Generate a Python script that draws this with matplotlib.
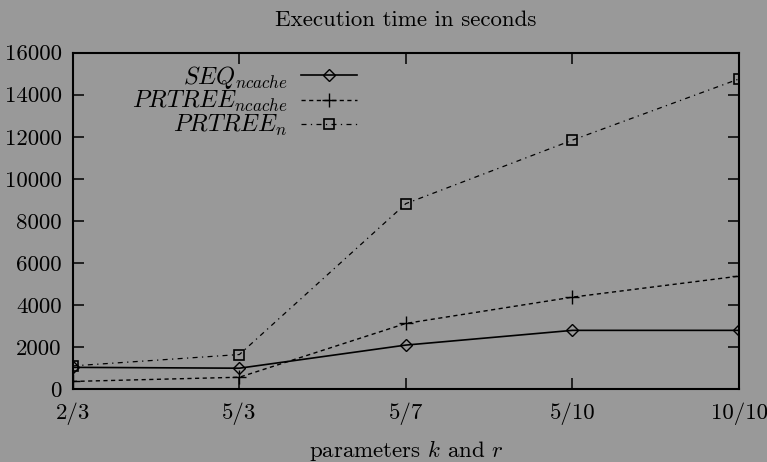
import matplotlib
matplotlib.use("Agg")
import matplotlib.pyplot as plt

plt.rcParams["font.family"] = "serif"
plt.rcParams["font.serif"] = ["cmr10", "DejaVu Serif"]
plt.rcParams["mathtext.fontset"] = "cm"
plt.rcParams["axes.formatter.use_mathtext"] = True

params = ["2/3", "5/3", "5/7", "5/10", "10/10"]
seq_ncache = [1030, 990, 2090, 2790, 2790]
prtree_ncache = [360, 560, 3120, 4370, 5370]
prtree_n = [1100, 1640, 8820, 11840, 14750]
y_ticks = [0, 2000, 4000, 6000, 8000, 10000, 12000, 14000, 16000]

bg = "#999999"
fs = 16.5
fig = plt.figure(figsize=(7.67, 4.62), dpi=100, facecolor=bg)
ax = fig.add_axes([0.095, 0.158, 0.8685, 0.728], facecolor=bg)

x = list(range(len(params)))
ax.plot(x, seq_ncache, color="black", lw=1.2, marker="D", ms=6,
        mfc="none", mec="black", mew=1.0, label=r"$SEQ_{ncache}$")
ax.plot(x, prtree_ncache, color="black", lw=1.0, dashes=(3, 2.5),
        marker="+", ms=10, mew=1.0, label=r"$PRTREE_{ncache}$")
ax.plot(x, prtree_n, color="black", lw=0.9, dashes=(4, 3.5, 1, 3.5),
        marker="s", ms=7, mfc="none", mec="black", mew=1.2,
        label=r"$PRTREE_{n}$")

ax.set_xlim(0, len(params) - 1)
ax.set_ylim(0, 16000)
ax.set_xticks(x)
ax.set_xticklabels(params)
ax.set_yticks(y_ticks)
ax.set_yticklabels([str(v) for v in y_ticks])
ax.tick_params(direction="in", length=8, width=1.1, labelsize=fs,
               top=True, right=True)
ax.tick_params(axis="x", pad=10)
ax.tick_params(axis="y", pad=8)
for s in ax.spines.values():
    s.set_linewidth(1.5)

ax.set_title("Execution time in seconds", fontsize=fs, pad=19)
ax.set_xlabel(r"parameters $k$ and $r$", fontsize=fs, labelpad=9)

ax.legend(loc="upper right", bbox_to_anchor=(0.43, 0.975), frameon=False,
          markerfirst=False, fontsize=17.5, handlelength=2.3,
          labelspacing=-0.05, handletextpad=0.55, borderaxespad=0.0,
          borderpad=0.1)

fig.savefig("out.png", dpi=100, facecolor=bg)
